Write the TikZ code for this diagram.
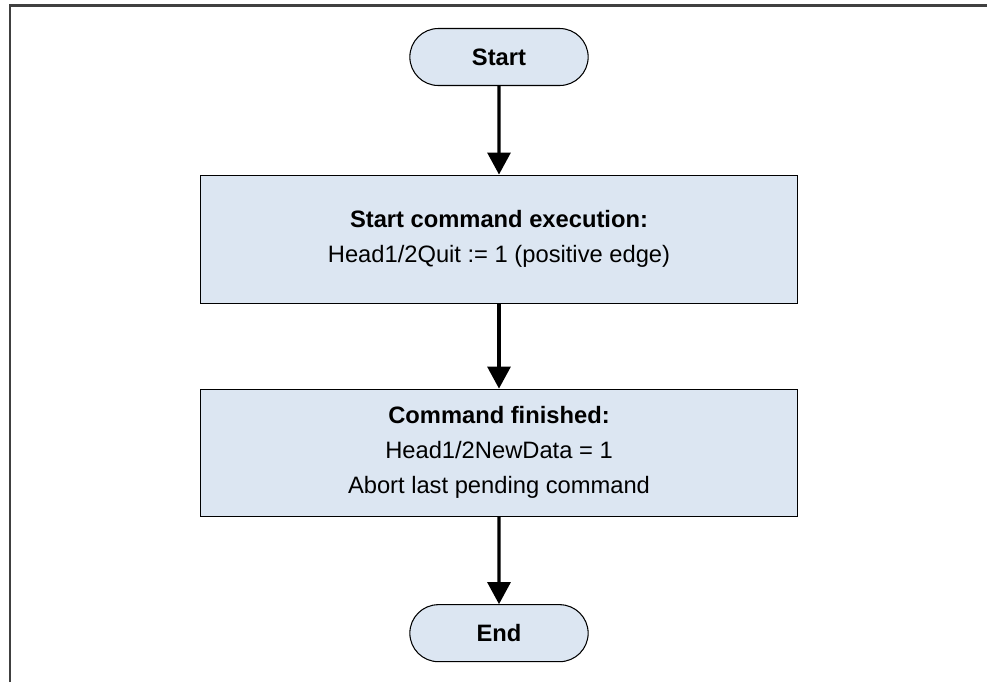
\documentclass[tikz,border=0pt]{standalone}
\usepackage{fontspec}
\setmainfont{Liberation Sans}
\definecolor{BoxBlue}{HTML}{DCE6F2}
\definecolor{FrameGray}{HTML}{404040}
\usetikzlibrary{arrows.meta, positioning, shapes.misc}
\tikzset{
  flowbox/.style={draw=black, line width=0.6pt, fill=BoxBlue, align=center, minimum width=11.94cm, minimum height=2.56cm, inner sep=4pt, font=\fontsize{13.5}{20}\selectfont},
  terminal/.style={draw=black, line width=0.6pt, fill=BoxBlue, rounded rectangle, align=center, minimum width=3.8cm, minimum height=1.14cm, font=\fontsize{13.5}{20}\selectfont\bfseries},
  arrow/.style={-{Triangle[length=4.4mm, width=4.6mm]}, line width=1.8pt, draw=black}
}

\begin{document}
\begin{tikzpicture}
\useasboundingbox (0,0) rectangle (19.74,-13.64);
\draw[FrameGray, line width=1.2pt] (0.2,-13.64) -- (0.2,-0.11) -- (19.74,-0.11);
\node[terminal] (start) at (9.98,-1.14) {Start};
\node[flowbox, below=1.77cm of start] (exec) {\textbf{Start command execution:}\\Head1/2Quit := 1 (positive edge)};
\node[flowbox, minimum height=2.54cm, below=1.7cm of exec] (done) {\textbf{Command finished:}\\Head1/2NewData = 1\\Abort last pending command};
\node[terminal, below=1.75cm of done] (end) {End};
\draw[arrow] (start) -- (exec);
\draw[arrow] (exec) -- (done);
\draw[arrow] (done) -- (end);
\end{tikzpicture}
\end{document}
